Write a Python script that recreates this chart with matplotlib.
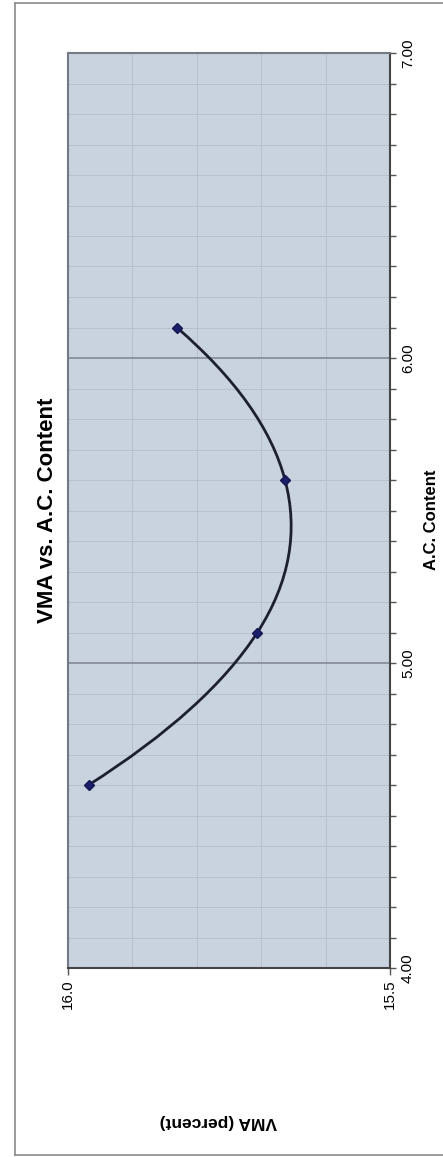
import matplotlib.pyplot as plt
from matplotlib.path import Path
from matplotlib.patches import PathPatch
from matplotlib.lines import Line2D
from matplotlib.ticker import MultipleLocator

plt.rcParams['font.family'] = ['Liberation Sans', 'DejaVu Sans']

# A.C. content (%) and VMA (%)
ac_content = [4.60, 5.10, 5.60, 6.10]
vma = [15.968, 15.706, 15.663, 15.831]

fig = plt.figure(figsize=(4.43, 11.57), dpi=100)

# page border (scan)
fig.add_artist(Line2D([15 / 443, 15 / 443], [2 / 1157, 1154 / 1157], color="#8a8a8a", lw=1.2))
fig.add_artist(Line2D([15 / 443, 1], [1154 / 1157, 1154 / 1157], color="#8a8a8a", lw=1.2))
fig.add_artist(Line2D([15 / 443, 1], [2 / 1157, 2 / 1157], color="#8a8a8a", lw=1.2))

# chart is printed rotated 90 degrees: VMA runs across, A.C. content runs up
ax = fig.add_axes([68 / 443, 189 / 1157, 322 / 443, 915 / 1157])
ax.set_facecolor("#c9d2df")
ax.set_xlim(16.0, 15.5)
ax.set_ylim(4.0, 7.0)

ax.xaxis.set_major_locator(MultipleLocator(0.5))
ax.xaxis.set_minor_locator(MultipleLocator(0.1))
ax.yaxis.set_major_locator(MultipleLocator(1.0))
ax.yaxis.set_minor_locator(MultipleLocator(0.1))
ax.yaxis.tick_right()

ax.grid(which="minor", color="#b7c0cc", lw=0.7)
ax.grid(which="major", axis="y", color="#858b95", lw=1.2)
ax.set_axisbelow(True)

ax.tick_params(axis="x", which="major", length=5, width=1, color="#555555",
               labelsize=11, labelrotation=90, pad=3)
ax.tick_params(axis="x", which="minor", length=0)
ax.tick_params(axis="y", which="both", length=4, width=1, color="#555555",
               labelsize=11, labelrotation=90, pad=4)
ax.set_xticklabels([f"{v:.1f}" for v in ax.get_xticks()], va="top")
ax.set_yticklabels([f"{v:.2f}" for v in ax.get_yticks()], va="center")

for side in ["left", "top"]:
    ax.spines[side].set_color("#737a85")
    ax.spines[side].set_linewidth(1.5)
for side in ["right", "bottom"]:
    ax.spines[side].set_color("#444444")
    ax.spines[side].set_linewidth(1.5)

# smoothed line (Catmull-Rom Bezier) through the points, ends extended quadratically
pts = list(zip(vma, ac_content))
n = len(pts)
first = tuple(3 * pts[0][k] - 3 * pts[1][k] + pts[2][k] for k in range(2))
last = tuple(3 * pts[-1][k] - 3 * pts[-2][k] + pts[-3][k] for k in range(2))
ext = [first] + pts + [last]
verts = [pts[0]]
codes = [Path.MOVETO]
for i in range(1, n):
    p0, p1, p2, p3 = ext[i - 1], ext[i], ext[i + 1], ext[i + 2]
    c1 = (p1[0] + (p2[0] - p0[0]) / 6, p1[1] + (p2[1] - p0[1]) / 6)
    c2 = (p2[0] - (p3[0] - p1[0]) / 6, p2[1] - (p3[1] - p1[1]) / 6)
    verts += [c1, c2, p2]
    codes += [Path.CURVE4] * 3
ax.add_patch(PathPatch(Path(verts, codes), fill=False, edgecolor="#1c2030", lw=2.0))
ax.plot(vma, ac_content, linestyle="none", marker="D", markersize=5.5,
        color="#1b1f6b", markeredgecolor="#14174f")

fig.text(48 / 443, 1 - 510 / 1157, "VMA vs. A.C. Content", rotation=90,
         fontsize=16, fontweight="bold", ha="center", va="center")
fig.text(431 / 443, 1 - 520 / 1157, "A.C. Content", rotation=90,
         fontsize=12, fontweight="bold", ha="center", va="center")
fig.text(218 / 443, 1 - 1122 / 1157, "VMA (percent)", rotation=180,
         fontsize=12.5, fontweight="bold", ha="center", va="center")

fig.savefig("out.png", dpi=100)
